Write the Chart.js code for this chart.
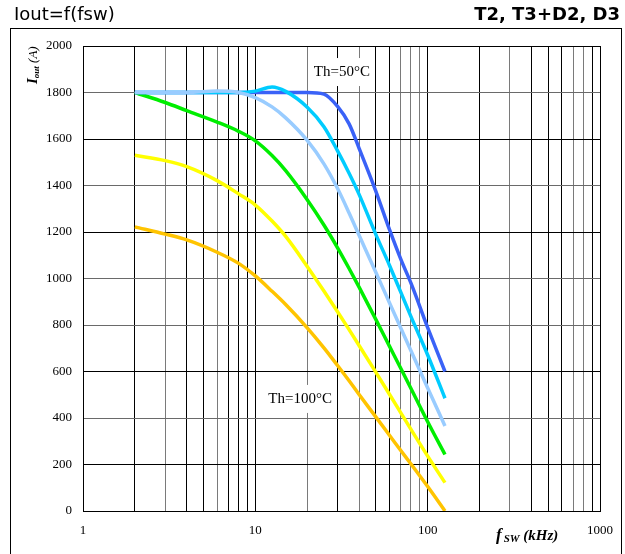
<!DOCTYPE html>
<html>
<head>
<meta charset="utf-8">
<script src="https://cdn.jsdelivr.net/npm/chart.js@4/dist/chart.umd.min.js"></script>
<style>
  html, body { margin: 0; padding: 0; background: #fff; }
  #wrap { width: 625px; height: 554px; position: relative; }
</style>
</head>
<body>
<div id="wrap"><canvas id="c" width="625" height="554"></canvas></div>
<script>
// Switching frequency samples (kHz) shared by every curve
const freq = [2, 3, 4, 6, 8, 10, 12.5, 15, 20, 25, 30, 35, 40, 50, 60, 70, 80, 100, 126];

// Output current (A) for each heatsink temperature curve
const curveBlue      = [1800, 1800, 1800, 1800, 1800, 1800, 1800, 1800, 1800, 1793, 1740, 1665, 1560, 1376, 1211, 1081, 980, 789, 600];
const curveCyan      = [1800, 1800, 1800, 1800, 1800, 1806, 1824, 1805, 1737, 1653, 1549, 1453, 1362, 1190, 1057, 939, 836, 671, 485];
const curveLightBlue = [1800, 1800, 1800, 1806, 1800, 1778, 1738, 1691, 1594, 1493, 1387, 1282, 1186, 1027, 896, 785, 689, 529, 366];
const curveGreen     = [1800, 1757, 1722, 1673, 1633, 1592, 1529, 1464, 1339, 1230, 1132, 1043, 963, 824, 709, 612, 527, 384, 243];
const curveYellow    = [1530, 1507, 1481, 1421, 1364, 1316, 1247, 1181, 1052, 946, 857, 780, 712, 597, 502, 421, 351, 236, 122];
const curveOrange    = [1222, 1191, 1166, 1113, 1065, 1011, 945, 888, 788, 702, 626, 560, 501, 405, 326, 259, 202, 105, 0];

// Axis tick values
const xLabelTicks = [1, 10, 100, 1000];
const yTicks = [0, 200, 400, 600, 800, 1000, 1200, 1400, 1600, 1800, 2000];

const titleLeft = 'Iout=f(fsw)';
const titleRight = 'T2, T3+D2, D3';
const noteHot = 'Th=50°C';
const noteCold = 'Th=100°C';

// log grid: 1..9, 10..90, 100..900, 1000
const xGridTicks = [];
for (const d of [1, 10, 100]) for (let k = 1; k <= 9; k++) xGridTicks.push(k * d);
xGridTicks.push(1000);

const grayX = new Set([3, 6, 20, 40, 70, 80, 90, 300, 700, 800]);
const grayY = new Set([1800, 1400, 1000, 800, 400]);

const series = [
  { label: 'blue',      data: curveBlue,      color: '#3a62f7', order: 2 },
  { label: 'cyan',      data: curveCyan,      color: '#00ccff', order: 1 },
  { label: 'lightblue', data: curveLightBlue, color: '#99ccff', order: 0 },
  { label: 'green',     data: curveGreen,     color: '#00ee00', order: 3 },
  { label: 'yellow',    data: curveYellow,    color: '#ffff00', order: 3 },
  { label: 'orange',    data: curveOrange,    color: '#ffc400', order: 3 }
];

const SERIF = '"Liberation Serif", "Times New Roman", serif';
const SANS = '"DejaVu Sans", Verdana, sans-serif';

const decorations = {
  id: 'decorations',
  beforeDatasetsDraw(chart) {
    const ctx = chart.ctx;
    const xs = chart.scales.x, ys = chart.scales.y;
    ctx.save();
    ctx.font = '15px ' + SERIF;
    ctx.textAlign = 'center';
    ctx.textBaseline = 'middle';
    // label boxes hide the grid underneath
    const notes = [
      { text: noteHot,  f: 31.8, a: 1888 },
      { text: noteCold, f: 18.2, a: 482 }
    ];
    for (const n of notes) {
      const cx = xs.getPixelForValue(n.f);
      const cy = ys.getPixelForValue(n.a);
      const w = ctx.measureText(n.text).width + 10;
      ctx.fillStyle = '#fff';
      ctx.fillRect(cx - w / 2, cy - 14, w, 28);
      ctx.fillStyle = '#000';
      ctx.fillText(n.text, cx, cy);
    }
    ctx.restore();
  },
  afterDraw(chart) {
    const ctx = chart.ctx;
    ctx.save();
    // outer frame
    ctx.strokeStyle = '#000';
    ctx.lineWidth = 1;
    ctx.strokeRect(10.5, 28.5, 611, 540);

    // header
    ctx.fillStyle = '#000';
    ctx.textBaseline = 'alphabetic';
    ctx.font = '18px ' + SANS;
    ctx.textAlign = 'left';
    ctx.fillText(titleLeft, 14, 20);
    ctx.font = 'bold 18px ' + SANS;
    ctx.textAlign = 'right';
    ctx.fillText(titleRight, 620, 20);

    // y axis title, rotated
    ctx.save();
    ctx.translate(37, 84);
    ctx.rotate(-Math.PI / 2);
    ctx.textAlign = 'left';
    let x = 0;
    ctx.font = 'italic bold 15px ' + SERIF;
    ctx.fillText('I', x, 0); x += ctx.measureText('I').width;
    ctx.font = 'italic bold 9px ' + SERIF;
    ctx.fillText('out', x, 2); x += ctx.measureText('out').width;
    ctx.font = 'italic 13px ' + SERIF;
    ctx.fillText(' (A)', x, 0);
    ctx.restore();

    // x axis title
    ctx.textAlign = 'left';
    let px = 496;
    ctx.font = 'italic bold 17px ' + SERIF;
    ctx.fillText('f', px, 540); px += ctx.measureText('f').width + 2;
    ctx.font = 'italic bold 11px ' + SERIF;
    ctx.fillText('SW', px, 542); px += ctx.measureText('SW').width;
    ctx.font = 'italic bold 15px ' + SERIF;
    ctx.fillText(' (kHz)', px, 540);
    ctx.restore();
  }
};

new Chart(document.getElementById('c'), {
  type: 'line',
  data: {
    datasets: series.map(s => ({
      label: s.label,
      data: freq.map((f, i) => ({ x: f, y: s.data[i] })),
      borderColor: s.color,
      borderWidth: 3.5,
      pointRadius: 0,
      fill: false,
      cubicInterpolationMode: 'monotone',
      order: s.order
    }))
  },
  options: {
    responsive: false,
    animation: false,
    events: [],
    layout: { padding: { left: 0, top: 46, right: 23, bottom: 0 } },
    plugins: { legend: { display: false }, tooltip: { enabled: false } },
    scales: {
      x: {
        type: 'logarithmic',
        min: 1,
        max: 1000,
        afterFit(scale) { scale.height = 43; },
        afterBuildTicks(scale) { scale.ticks = xGridTicks.map(v => ({ value: v })); },
        ticks: {
          autoSkip: false,
          maxRotation: 0,
          padding: 12,
          color: '#000',
          font: { family: SERIF, size: 13 },
          callback: v => (xLabelTicks.includes(v) ? String(v) : '')
        },
        grid: {
          drawTicks: false,
          lineWidth: 1,
          color: c => (c.tick && grayX.has(c.tick.value) ? '#7a7a7a' : '#000')
        },
        border: { color: '#000', width: 1 }
      },
      y: {
        type: 'linear',
        min: 0,
        max: 2000,
        afterFit(scale) { scale.width = 83; },
        afterBuildTicks(scale) { scale.ticks = yTicks.map(v => ({ value: v })); },
        ticks: {
          padding: 11,
          color: '#000',
          font: { family: SERIF, size: 13 },
          callback: v => String(v)
        },
        grid: {
          drawTicks: false,
          lineWidth: 1,
          color: c => (c.tick && grayY.has(c.tick.value) ? '#6a6a6a' : '#000')
        },
        border: { color: '#000', width: 1 }
      }
    }
  },
  plugins: [decorations]
});
</script>
</body>
</html>
